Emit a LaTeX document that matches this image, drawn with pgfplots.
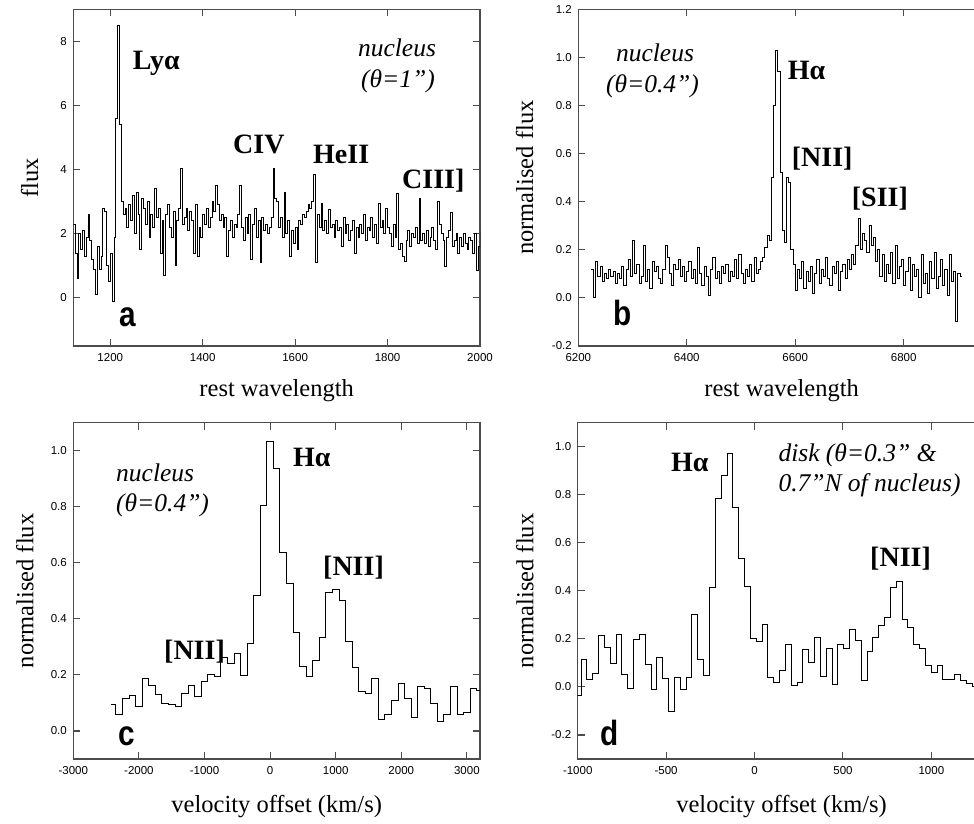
\documentclass[border=0pt]{standalone}
\usepackage{fontspec}
\setmainfont{Liberation Serif}
\newfontfamily\sansf{Liberation Sans}
\usepackage{pgfplots}
\pgfplotsset{compat=1.18}

\newcommand\tickfont{\sansf\fontsize{11.5}{13}\selectfont}
\newcommand\labfont{\fontsize{24.5}{28}\selectfont}
\newcommand\linefont{\bfseries\fontsize{28}{32}\selectfont}
\newcommand\itfont{\itshape\fontsize{25.5}{30}\selectfont}
\newcommand\panelfont{\sansf\bfseries\fontsize{35}{40}\selectfont}

\pgfplotsset{
  panel/.style={
    scale only axis, anchor=south west, width=406.7pt,
    axis line style={black!70, line width=1.4pt},
    major tick style={black!70, line width=1.1pt},
    major tick length=7pt, tick align=inside,
    ticklabel style={font=\tickfont},
    xticklabel style={yshift=-4pt},
    yticklabel style={xshift=-3pt},
    /pgf/number format/assume math mode=true,
    /pgf/number format/1000 sep={},
  },
  onedec/.style={yticklabel style={/pgf/number format/fixed,
      /pgf/number format/fixed zerofill, /pgf/number format/precision=1}},
  spec/.style={black, line width=0.9pt, const plot, mark=none},
}

\begin{document}
\begin{tikzpicture}
\useasboundingbox (0,0) rectangle (974pt,823pt);
\clip (0,0) rectangle (974pt,823pt);

% (a) UV spectrum
\begin{axis}[panel, at={(73.3pt,477pt)}, height=336.7pt,
  xmin=1120, xmax=2000, ymin=-1.5, ymax=9,
  xtick={1200,1400,1600,1800,2000}, ytick={0,2,4,6,8}]
\addplot[spec] coordinates {
(1120,2.3) (1124,1.4) (1128,0.6) (1132,2.0) (1136,1.5) (1140,2.1) (1144,1.3) (1148,1.9) (1152,2.6) (1156,1.8)
(1160,1.2) (1164,0.9) (1168,0.1) (1172,1.6) (1176,0.9) (1180,1.3) (1184,2.8) (1188,2.7) (1192,1.0) (1196,0.5)
(1200,1.4) (1204,-0.1) (1208,1.9) (1212,5.6) (1216,8.5) (1220,5.4) (1224,3.0) (1228,2.6) (1232,2.8) (1236,2.2)
(1240,2.9) (1244,2.4) (1248,3.2) (1252,2.0) (1256,3.3) (1260,2.6) (1264,1.5) (1268,3.1) (1272,2.8) (1276,2.3)
(1280,3.0) (1284,1.9) (1288,2.6) (1292,2.2) (1296,3.4) (1300,2.5) (1304,2.8) (1308,1.4) (1312,2.4) (1316,0.7)
(1320,2.6) (1324,2.9) (1328,2.2) (1332,1.9) (1336,2.7) (1340,1.0) (1344,2.4) (1348,2.8) (1352,4.05) (1356,2.3)
(1360,2.5) (1364,2.8) (1368,2.1) (1372,2.7) (1376,2.4) (1380,1.4) (1384,2.9) (1388,1.3) (1392,2.2) (1396,1.9)
(1400,2.6) (1404,2.3) (1408,2.8) (1412,2.2) (1416,2.5) (1420,3.0) (1424,2.7) (1428,3.5) (1432,2.9) (1436,2.4)
(1440,2.6) (1444,2.2) (1448,2.5) (1452,1.3) (1456,2.1) (1460,2.4) (1464,1.9) (1468,2.3) (1472,2.2) (1476,2.6)
(1480,3.5) (1484,2.2) (1488,1.8) (1492,2.5) (1496,2.0) (1500,2.6) (1504,1.2) (1508,2.3) (1512,2.8) (1516,1.9)
(1520,2.4) (1524,1.1) (1528,2.5) (1532,2.1) (1536,2.3) (1540,2.0) (1544,2.2) (1548,2.5) (1552,4.05) (1556,3.1)
(1560,3.0) (1564,2.2) (1568,2.5) (1572,1.9) (1576,3.3) (1580,2.0) (1584,2.4) (1588,1.3) (1592,2.1) (1596,1.7)
(1600,2.2) (1604,1.5) (1608,2.4) (1612,2.3) (1616,2.6) (1620,2.5) (1624,2.7) (1628,2.9) (1632,2.8) (1636,3.0)
(1640,3.85) (1644,1.1) (1648,2.6) (1652,2.2) (1656,2.95) (1660,2.1) (1664,2.4) (1668,2.0) (1672,2.75) (1676,2.2)
(1680,2.3) (1684,1.9) (1688,2.4) (1692,2.1) (1696,2.2) (1700,1.6) (1704,2.5) (1708,2.0) (1712,2.3) (1716,1.8)
(1720,2.1) (1724,2.4) (1728,1.4) (1732,2.2) (1736,1.9) (1740,2.3) (1744,2.0) (1748,2.6) (1752,1.8) (1756,2.2)
(1760,2.1) (1764,2.5) (1768,1.9) (1772,2.3) (1776,1.7) (1780,2.95) (1784,2.2) (1788,2.4) (1792,2.0) (1796,2.8)
(1800,2.2) (1804,2.0) (1808,1.6) (1812,2.3) (1816,1.9) (1820,3.27) (1824,1.5) (1828,1.7) (1832,1.3) (1836,1.13)
(1840,1.8) (1844,2.1) (1848,1.6) (1852,2.0) (1856,1.9) (1860,2.2) (1864,1.7) (1868,3.1) (1872,1.8) (1876,2.0)
(1880,1.7) (1884,2.1) (1888,1.6) (1892,1.9) (1896,2.2) (1900,1.8) (1904,1.5) (1908,3.0) (1912,2.3) (1916,2.0)
(1920,1.8) (1924,0.97) (1928,1.9) (1932,2.1) (1936,2.65) (1940,1.6) (1944,1.8) (1948,2.0) (1952,1.4) (1956,1.9)
(1960,1.6) (1964,2.0) (1968,1.7) (1972,1.5) (1976,1.9) (1980,1.8) (1984,1.4) (1988,2.0) (1992,0.87) (1996,1.6)
(2000,2.1)
};
\end{axis}

% (b) optical spectrum
\begin{axis}[panel, onedec, at={(578.3pt,477pt)}, height=336.7pt,
  xmin=6200, xmax=6950, ymin=-0.2, ymax=1.2,
  xtick={6200,6400,6600,6800}, ytick={-0.2,0,0.2,0.4,0.6,0.8,1.0,1.2}]
\addplot[spec] coordinates {
(6224,0.12) (6228,0.00) (6232,0.15) (6236,0.09) (6240,0.13) (6244,0.07) (6248,0.10) (6252,0.08) (6256,0.12) (6260,0.09)
(6264,0.11) (6268,0.06) (6272,0.10) (6276,0.08) (6280,0.13) (6284,0.05) (6288,0.12) (6292,0.16) (6296,0.09) (6300,0.24)
(6304,0.10) (6308,0.14) (6312,0.06) (6316,0.09) (6320,0.22) (6324,0.07) (6328,0.12) (6332,0.04) (6336,0.15) (6340,0.11)
(6344,0.13) (6348,0.08) (6352,0.06) (6356,0.12) (6360,0.22) (6364,0.17) (6368,0.10) (6372,0.05) (6376,0.14) (6380,0.12)
(6384,0.16) (6388,0.09) (6392,0.13) (6396,0.07) (6400,0.11) (6404,0.15) (6408,0.08) (6412,0.12) (6416,0.06) (6420,0.21)
(6424,0.10) (6428,0.05) (6432,0.13) (6436,0.09) (6440,0.01) (6444,0.12) (6448,0.17) (6452,0.08) (6456,0.11) (6460,0.06)
(6464,0.13) (6468,0.10) (6472,0.14) (6476,0.07) (6480,0.11) (6484,0.09) (6488,0.16) (6492,0.08) (6496,0.18) (6500,0.10)
(6504,0.06) (6508,0.12) (6512,0.09) (6516,0.14) (6520,0.07) (6524,0.17) (6528,0.10) (6532,0.12) (6536,0.15) (6540,0.17)
(6544,0.21) (6548,0.26) (6552,0.24) (6556,0.50) (6560,0.80) (6564,1.03) (6568,0.94) (6572,0.52) (6576,0.28) (6580,0.23)
(6584,0.50) (6588,0.48) (6592,0.20) (6596,0.14) (6600,0.03) (6604,0.12) (6608,0.08) (6612,0.15) (6616,0.04) (6620,0.11)
(6624,0.07) (6628,0.13) (6632,0.02) (6636,0.10) (6640,0.16) (6644,0.06) (6648,0.12) (6652,0.09) (6656,0.17) (6660,0.08)
(6664,0.05) (6668,0.13) (6672,0.10) (6676,0.15) (6680,0.03) (6684,0.11) (6688,0.14) (6692,0.08) (6696,0.16) (6700,0.12)
(6704,0.18) (6708,0.14) (6712,0.22) (6716,0.33) (6720,0.20) (6724,0.27) (6728,0.24) (6732,0.19) (6736,0.30) (6740,0.22)
(6744,0.25) (6748,0.15) (6752,0.20) (6756,0.09) (6760,0.18) (6764,0.07) (6768,0.14) (6772,0.10) (6776,0.19) (6780,0.06)
(6784,0.22) (6788,0.08) (6792,0.13) (6796,0.16) (6800,0.05) (6804,0.11) (6808,0.17) (6812,0.03) (6816,0.14) (6820,0.09)
(6824,0.12) (6828,0.00) (6832,0.18) (6836,0.06) (6840,0.10) (6844,0.02) (6848,0.15) (6852,0.08) (6856,0.19) (6860,0.04)
(6864,0.09) (6868,0.16) (6872,0.05) (6876,0.12) (6880,0.01) (6884,0.18) (6888,0.07) (6892,0.11) (6896,-0.10) (6900,0.10)
(6904,0.09) (6908,0.09)
};
\end{axis}

% (c) nucleus, velocity
\begin{axis}[panel, onedec, at={(73.3pt,64pt)}, height=336.3pt,
  xmin=-3000, xmax=3200, ymin=-0.1, ymax=1.1,
  xtick={-3000,-2000,-1000,0,1000,2000,3000}, ytick={0,0.2,0.4,0.6,0.8,1.0}]
\addplot[spec] coordinates {
(-2420,0.094) (-2350,0.059) (-2250,0.115) (-2150,0.127) (-2050,0.086) (-1950,0.187) (-1850,0.163) (-1750,0.131)
(-1650,0.100) (-1550,0.095) (-1450,0.088) (-1350,0.133) (-1250,0.163) (-1150,0.124) (-1050,0.175) (-950,0.202)
(-850,0.195) (-750,0.262) (-650,0.240) (-550,0.276) (-450,0.199) (-350,0.314) (-250,0.485) (-150,0.806)
(-50,1.032) (50,0.937) (150,0.637) (250,0.526) (350,0.351) (450,0.232) (550,0.193) (650,0.252)
(750,0.333) (850,0.496) (950,0.505) (1050,0.467) (1150,0.321) (1250,0.226) (1350,0.142) (1450,0.133)
(1550,0.187) (1650,0.040) (1750,0.059) (1850,0.110) (1950,0.169) (2050,0.115) (2150,0.050) (2250,0.160)
(2350,0.151) (2450,0.100) (2550,0.035) (2650,0.060) (2750,0.160) (2850,0.060) (2950,0.065) (3050,0.151)
(3150,0.145) (3250,0.145)
};
\end{axis}

% (d) disk, velocity
\begin{axis}[panel, onedec, at={(577.7pt,64pt)}, height=336.3pt,
  xmin=-1000, xmax=1300, ymin=-0.3, ymax=1.1,
  xtick={-1000,-500,0,500,1000}, ytick={-0.2,0,0.2,0.4,0.6,0.8,1.0}]
\addplot[spec] coordinates {
(-1010,-0.0375) (-981,0.1125) (-948,0.032) (-915,0.057) (-882,0.214) (-849,0.165) (-816,0.099) (-783,0.219)
(-750,0.050) (-717,-0.006) (-684,0.196) (-651,0.219) (-618,0.092) (-585,-0.0125) (-552,0.122) (-519,0.036)
(-486,-0.100) (-453,0.040) (-420,-0.010) (-387,0.040) (-354,0.300) (-321,0.1125) (-288,0.046) (-255,0.414)
(-222,0.783) (-189,0.880) (-156,0.974) (-123,0.747) (-90,0.536) (-57,0.418) (-24,0.203) (9,0.189)
(42,0.261) (75,0.040) (108,0.018) (141,0.068) (174,0.175) (207,0.008) (240,0.018) (273,0.154)
(306,0.103) (339,0.206) (372,0.043) (405,0.161) (438,0.011) (471,0.178) (504,0.161) (537,0.2375)
(570,0.193) (603,0.029) (636,0.147) (669,0.207) (702,0.256) (735,0.290) (768,0.415) (801,0.439)
(834,0.279) (867,0.247) (900,0.175) (933,0.161) (966,0.089) (999,0.060) (1032,0.0875) (1065,0.033)
(1098,0.033) (1131,0.050) (1164,0.029) (1197,0.015) (1230,0.000) (1263,0.000)
};
\end{axis}

% axis titles
\node[rotate=90, anchor=base, font=\labfont] at (38pt,645.3pt) {flux};
\node[rotate=90, anchor=base, font=\labfont] at (533pt,645.3pt) {normalised flux};
\node[rotate=90, anchor=base, font=\labfont] at (33.3pt,232.2pt) {normalised flux};
\node[rotate=90, anchor=base, font=\labfont] at (533.3pt,232.2pt) {normalised flux};
\node[anchor=base, font=\labfont] at (276.7pt,426pt) {rest wavelength};
\node[anchor=base, font=\labfont] at (781.6pt,426pt) {rest wavelength};
\node[anchor=base, font=\labfont] at (276.7pt,11pt) {velocity offset (km/s)};
\node[anchor=base, font=\labfont] at (781.6pt,11pt) {velocity offset (km/s)};

% panel letters
\node[anchor=base west, inner sep=0pt, font=\panelfont] at (119pt,496.3pt) {\scalebox{0.85}[1]{a}};
\node[anchor=base west, inner sep=0pt, font=\panelfont] at (613pt,497pt) {\scalebox{0.85}[1]{b}};
\node[anchor=base west, inner sep=0pt, font=\panelfont] at (118pt,78pt) {\scalebox{0.85}[1]{c}};
\node[anchor=base west, inner sep=0pt, font=\panelfont] at (600pt,78pt) {\scalebox{0.85}[1]{d}};

% line identifications
\begin{scope}[every node/.style={anchor=base west, inner sep=0pt, font=\linefont}]
\node at (132.7pt,753pt) {Lyα};
\node at (233pt,669pt) {CIV};
\node at (313pt,659pt) {HeII};
\node at (402pt,634pt) {CIII]};
\node at (787.7pt,743pt) {Hα};
\node at (791.7pt,656.3pt) {[NII]};
\node at (851.7pt,616pt) {[SII]};
\node at (293pt,356.3pt) {Hα};
\node at (323pt,248pt) {[NII]};
\node at (164pt,164pt) {[NII]};
\node at (671pt,351.3pt) {Hα};
\node at (870pt,256.3pt) {[NII]};
\end{scope}

% aperture notes
\begin{scope}[every node/.style={inner sep=0pt, font=\itfont}]
\node[anchor=base] at (397pt,766pt) {nucleus};
\node[anchor=base] at (398pt,735pt) {(θ=1”)};
\node[anchor=base] at (655pt,761.3pt) {nucleus};
\node[anchor=base] at (652.5pt,730pt) {(θ=0.4”)};
\node[anchor=base west] at (116pt,341.3pt) {nucleus};
\node[anchor=base west] at (116pt,311.3pt) {(θ=0.4”)};
\node[anchor=base west] at (778.3pt,361.3pt) {disk (θ=0.3” \&};
\node[anchor=base west] at (778.3pt,331.3pt) {0.7”N of nucleus)};
\end{scope}
\end{tikzpicture}
\end{document}
